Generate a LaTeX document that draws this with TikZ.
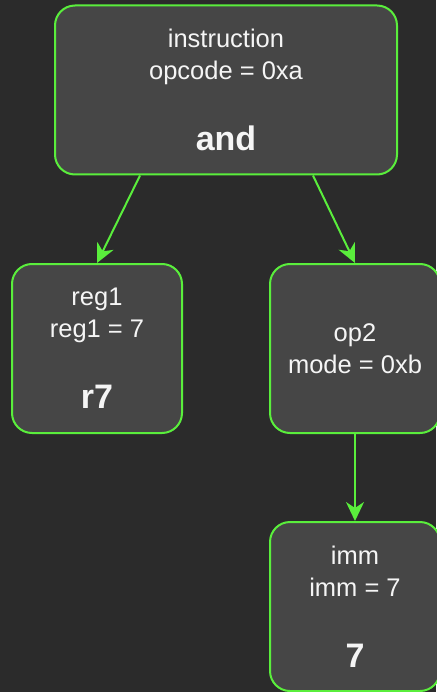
\documentclass[tikz,border=0pt]{standalone}
\usepackage{fontspec}
\setmainfont{Liberation Sans}
\usetikzlibrary{arrows.meta}
\definecolor{bgdark}{HTML}{2B2B2B}
\definecolor{boxfill}{HTML}{464646}
\definecolor{edgegreen}{HTML}{5AEE3C}

\begin{document}
\begin{tikzpicture}[x=1pt,y=-1pt]
\tikzset{every node/.style={text=white!96!black,font=\fontsize{25.5}{32}\selectfont}}
\tikzset{box/.style={draw=edgegreen,fill=boxfill,line width=2pt,rounded corners=20pt,
  minimum width=170pt,minimum height=169pt,align=center,inner sep=0pt}}
\tikzset{link/.style={draw=edgegreen,line width=2pt,-{Stealth[length=19pt,width=18pt,inset=6pt]}}}
\newcommand{\valtext}[1]{{\fontsize{34}{32}\selectfont\bfseries #1}}

% Background (fixes the picture size)
\fill[bgdark] (0,0) rectangle (436,692);
\useasboundingbox (0,0) rectangle (436,692);

% Nodes
\node[box,minimum width=342pt] (instr) at (226,90) {instruction\\opcode = 0xa\\[39pt]\valtext{and}};
\node[box] (reg1) at (97,348.5) {reg1\\reg1 = 7\\[39pt]\valtext{r7}};
\node[box] (op2) at (355,348.5) {op2\\mode = 0xb};
\node[box] (imm) at (355,606.5) {imm\\imm = 7\\[39pt]\valtext{7}};

% Edges
\draw[link] ([xshift=-86pt]instr.south) -- (reg1.north);
\draw[link] ([xshift=87pt]instr.south) -- (op2.north);
\draw[link] (op2) -- (imm);

\end{tikzpicture}
\end{document}
